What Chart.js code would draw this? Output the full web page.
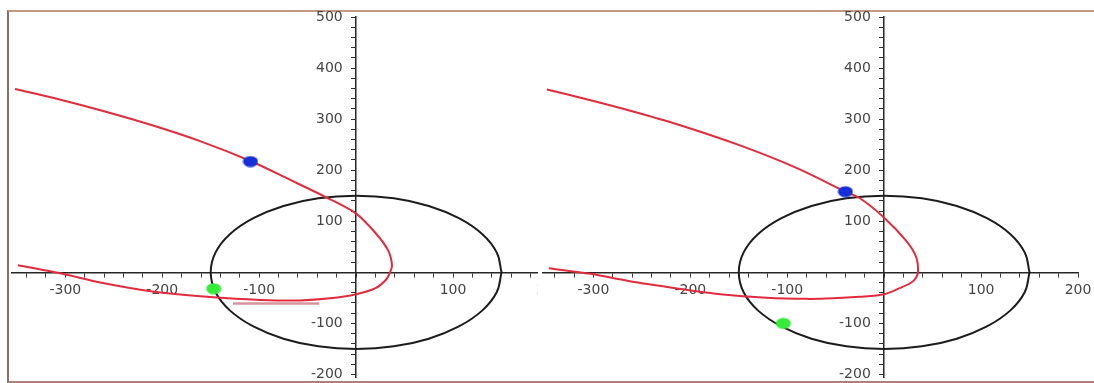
<!DOCTYPE html>
<html>
<head>
<meta charset="utf-8">
<script src="https://cdn.jsdelivr.net/npm/chart.js@4.4.1/dist/chart.umd.min.js"></script>
<style>
  html, body { margin: 0; padding: 0; background: #ffffff; width: 1094px; height: 383px; overflow: hidden; position: relative; }
  #frame { position: absolute; left: 7px; top: 10px; width: 1100px; height: 369px;
           border-top: 2px solid #c49a84; border-left: 2px solid #86716a; border-bottom: 2px solid #a88474; }
  #clipL { position: absolute; left: 0; top: 0; width: 538px; height: 383px; overflow: hidden; }
  #c1 { position: absolute; left: 2px; top: -3px; }
  #c2 { position: absolute; left: 533px; top: -3px; }
</style>
</head>
<body>
<div id="frame"></div>
<div id="clipL"><canvas id="c1" width="573" height="400"></canvas></div>
<canvas id="c2" width="570" height="400"></canvas>
<script>
// ---- data ----
// circle (black) of radius ~150 about the origin, read every 15 degrees
const circleX = [150, 145, 130, 106, 75, 39, 0, -39, -75, -106, -130, -145, -150, -145, -130, -106, -75, -39, 0, 39, 75, 106, 130, 145, 150];
const circleY = [0, 39, 75, 106, 130, 145, 150, 145, 130, 106, 75, 39, 0, -39, -75, -106, -130, -145, -150, -145, -130, -106, -75, -39, 0];

// red trajectory, left panel
const redLeftX = [-352, -305, -261, -212, -161, -109, -68, -30, 0, 20, 33, 37, 35, 31, 20, 0, -27, -58, -99, -147, -212, -264, -303, -349];
const redLeftY = [359, 338, 316, 289, 257, 218, 181, 146, 115, 77, 43, 14, 0, -14, -31, -43, -51, -55, -54, -49, -37, -20, -3, 14];
// pale stray segment under the lower branch, left panel
const strayLeftX = [-127, -38];
const strayLeftY = [-61, -61];

// red trajectory, right panel
const redRightX = [-348, -305, -261, -212, -148, -90, -40, -25, 0, 23, 33, 35, 33, 28, 16, 0, -25, -53, -80, -121, -169, -212, -264, -303, -346];
const redRightY = [358, 338, 316, 289, 248, 204, 158, 145, 107, 61, 30, 2, -10, -20, -31, -43, -48, -51, -52, -50, -43, -32, -17, -3, 8];

// marker dots
const blueLeft = [-109, 217];
const greenLeft = [-147, -32];
const blueRight = [-40, 158];
const greenRight = [-104, -100];

// axes
const leftXRange = [-355, 200];
const rightXRange = [-352, 200];
const yRange = [-205, 500];
const tickStep = 20;
const labelStep = 100;

// ---- helpers ----
function pts(xs, ys) { return xs.map((x, i) => ({ x: x, y: ys[i] })); }
function ellipseDot(color) {
  const c = document.createElement('canvas');
  c.width = 16; c.height = 12;
  const g = c.getContext('2d');
  g.fillStyle = color;
  g.beginPath();
  g.ellipse(8, 6, 7.5, 5.5, 0, 0, Math.PI * 2);
  g.fill();
  return c;
}
const blueDot = ellipseDot('#1530d8');
const greenDot = ellipseDot('#35ec3a');

function xLabel(v) {
  return (v % labelStep === 0 && v !== 0) ? String(v) : '';
}
function yLabel(v) {
  // trailing spaces keep the label clear of the axis line
  return (v % labelStep === 0 && v !== 0) ? String(v) + '   ' : '';
}

function makeChart(id, xr, redX, redY, blue, green, stray) {
  const datasets = [
    { data: [{ x: blue[0], y: blue[1] }], pointStyle: blueDot, pointRadius: 8, showLine: false },
    { data: [{ x: green[0], y: green[1] }], pointStyle: greenDot, pointRadius: 8, showLine: false },
    { data: pts(redX, redY), showLine: true, borderColor: 'rgb(226,44,62)', borderWidth: 2, pointRadius: 0, tension: 0.3, fill: false }
  ];
  if (stray) {
    datasets.push({ data: pts(stray[0], stray[1]), showLine: true, borderColor: 'rgba(205,130,140,0.85)', borderWidth: 2.5, pointRadius: 0, fill: false });
  }
  datasets.push({ data: pts(circleX, circleY), showLine: true, borderColor: '#1c1c1c', borderWidth: 2, pointRadius: 0, tension: 0.4, fill: false });

  const axisCommon = {
    type: 'linear',
    border: { display: true, color: '#262626', width: 1.5 },
    grid: { display: true, drawOnChartArea: false, drawTicks: true, tickLength: 4, color: '#333', lineWidth: 1 },
  };
  return new Chart(document.getElementById(id), {
    type: 'scatter',
    data: { datasets: datasets },
    options: {
      responsive: false,
      animation: false,
      events: [],
      layout: { padding: { left: 10, right: 25, top: 20, bottom: 20 } },
      plugins: { legend: { display: false }, tooltip: { enabled: false } },
      scales: {
        x: Object.assign({}, axisCommon, {
          position: { y: 0 },
          min: xr[0], max: xr[1],
          ticks: { stepSize: tickStep, includeBounds: false, autoSkip: false, maxRotation: 0, padding: 6, color: '#454545',
                   font: { family: 'DejaVu Sans', size: 14 }, callback: xLabel }
        }),
        y: Object.assign({}, axisCommon, {
          position: { x: 0 },
          min: yRange[0], max: yRange[1],
          ticks: { stepSize: tickStep, includeBounds: false, autoSkip: false, padding: 9, color: '#454545',
                   font: { family: 'DejaVu Sans', size: 14 }, callback: yLabel }
        })
      }
    }
  });
}

makeChart('c1', leftXRange, redLeftX, redLeftY, blueLeft, greenLeft, [strayLeftX, strayLeftY]);
makeChart('c2', rightXRange, redRightX, redRightY, blueRight, greenRight, null);
</script>
</body>
</html>
